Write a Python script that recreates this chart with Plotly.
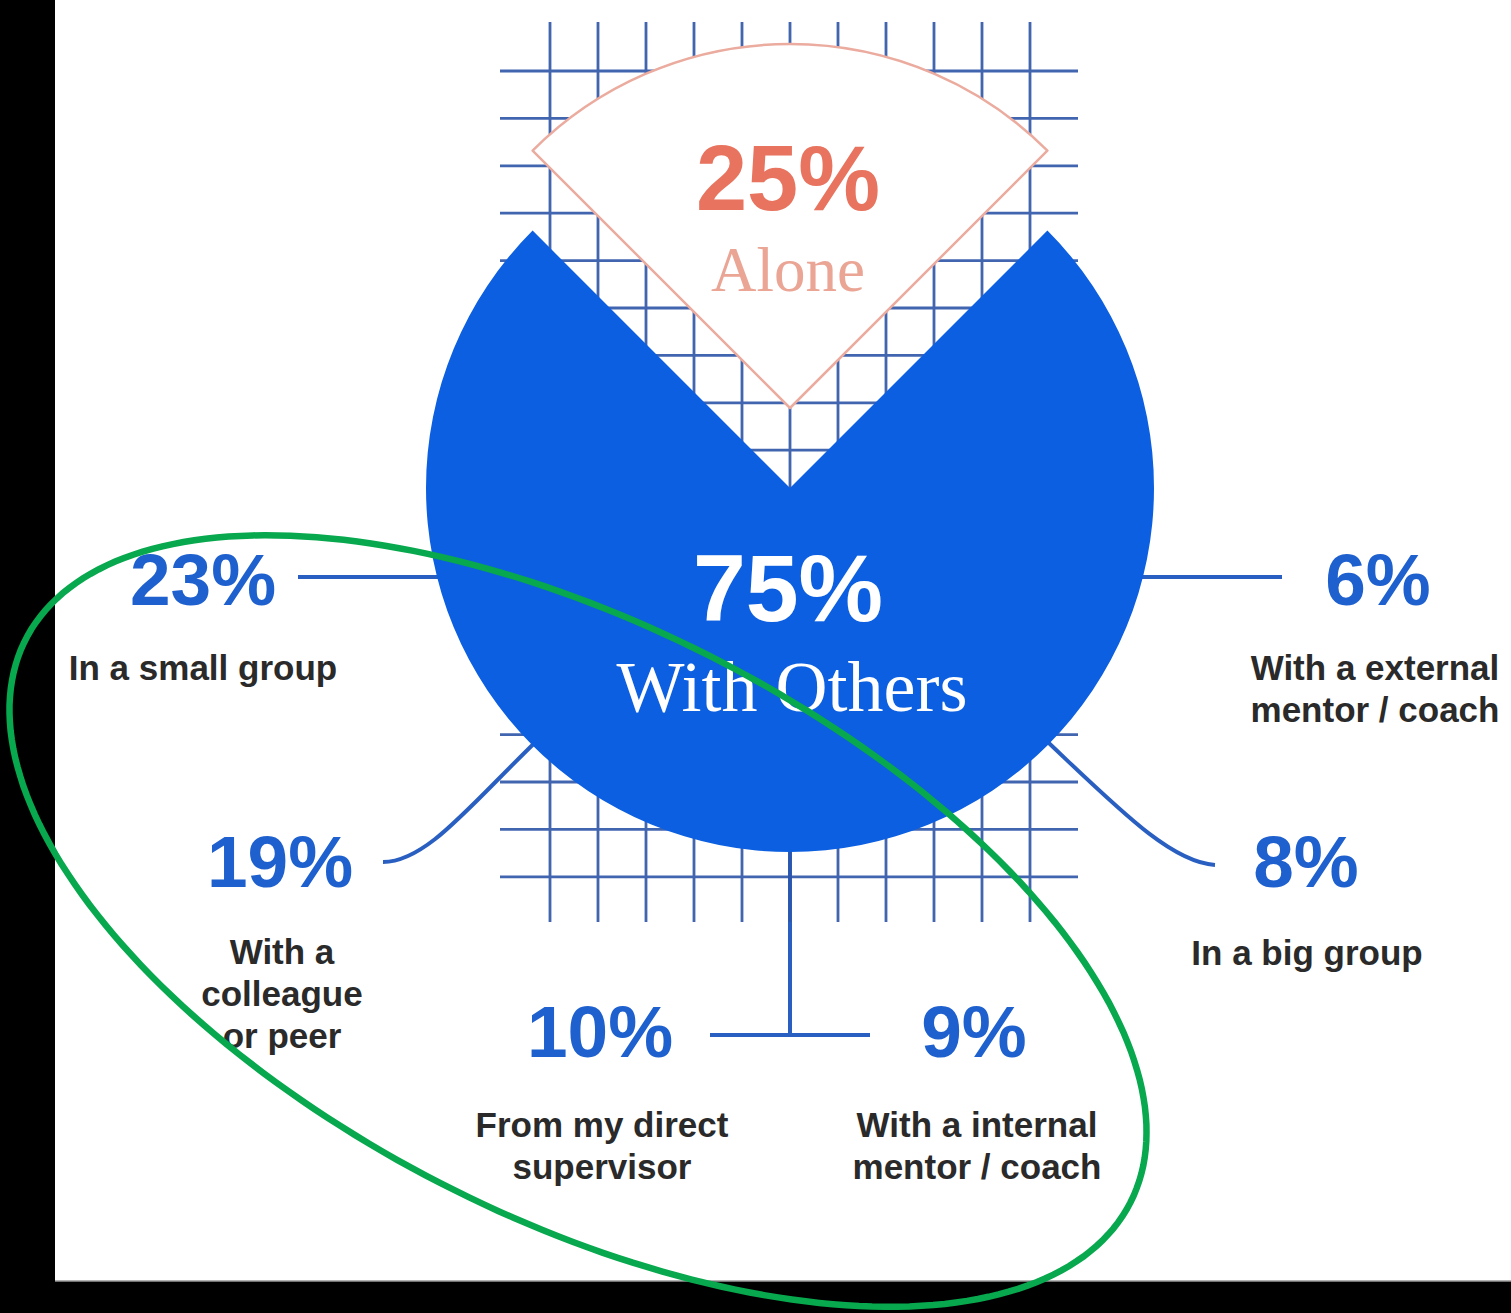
import numpy as np
import plotly.graph_objects as go

# ---------------- data ----------------
main_labels = ["Alone", "With Others"]
main_values = [25, 75]

detail_labels = [
    "In a small group",
    "With a<br>colleague<br>or peer",
    "From my direct<br>supervisor",
    "With a internal<br>mentor / coach",
    "In a big group",
    "With a external<br>mentor / coach",
]
detail_values = [23, 19, 10, 9, 8, 6]

# ---------------- layout constants (pixels) ----------------
W, H = 1511, 1313
CX, CY, R = 790, 488, 364
PULL_PX = 80
PULL = PULL_PX / R

BLUE = "#0b5fe0"
TXT_BLUE = "#1f60cf"
LINE_BLUE = "#2a5fc2"
GRID_BLUE = "#2e55a8"
SALMON = "#e8735e"
SALMON_LIGHT = "#eaa595"
DARK = "#2a2a2a"
SANS = "Liberation Sans, Arial, sans-serif"
SERIF = "Liberation Serif, Times New Roman, serif"

# positions for each detail entry: (pct_x, pct_y, label_x, label_first_y)
detail_pos = [
    (203, 580, 203, 668),
    (280, 862, 282, 952),
    (600, 1032, 602, 1125),
    (974, 1032, 977, 1125),
    (1306, 862, 1307, 953),
    (1378, 580, 1375, 668),
]
LINE_GAP = 42

fig = go.Figure()

# background grid (cartesian trace, drawn beneath the pie)
gx, gy = [], []
for k in range(11):
    x = 550 + 48 * k
    gx += [x, x, None]
    gy += [22, 922, None]
for k in range(18):
    y = 71 + 47.4 * k
    gx += [500, 1078, None]
    gy += [y, y, None]
fig.add_trace(go.Scatter(x=gx, y=gy, mode="lines",
                         line=dict(color=GRID_BLUE, width=2.8),
                         opacity=0.9, hoverinfo="skip", showlegend=False))

# pie
S = 2 * R * (1 + PULL)
fig.add_trace(go.Pie(
    values=main_values, labels=main_labels, sort=False, direction="clockwise",
    rotation=-45, pull=[PULL, 0],
    marker=dict(colors=["white", BLUE],
                line=dict(color=["#ebab9e", BLUE], width=[2.5, 0])),
    textinfo="none", hoverinfo="skip", showlegend=False,
    domain=dict(x=[(CX - S / 2) / W, (CX + S / 2) / W],
                y=[1 - (CY + S / 2) / H, 1 - (CY - S / 2) / H]),
))

shapes = []
# white card on black background
shapes.append(dict(type="rect", xref="x", yref="y", x0=55, x1=W, y0=0, y1=1281,
                   fillcolor="white", line=dict(width=0), layer="below"))
shapes.append(dict(type="line", xref="x", yref="y", x0=55, x1=W, y0=1281, y1=1281,
                   line=dict(color="#9a9a9a", width=1.5), layer="below"))

# connectors
conn = dict(color=LINE_BLUE, width=4)
shapes += [
    dict(type="line", xref="x", yref="y", x0=298, x1=460, y0=577, y1=577, line=conn, layer="below"),
    dict(type="line", xref="x", yref="y", x0=1120, x1=1282, y0=577, y1=577, line=conn, layer="below"),
    dict(type="path", xref="x", yref="y", path="M 383,862 C 428,862 472,802 548,730",
         line=conn, layer="below"),
    dict(type="path", xref="x", yref="y", path="M 1215,865 C 1168,862 1112,802 1035,730",
         line=conn, layer="below"),
    dict(type="line", xref="x", yref="y", x0=790, x1=790, y0=830, y1=1035, line=conn, layer="below"),
    dict(type="line", xref="x", yref="y", x0=710, x1=870, y0=1035, y1=1035, line=conn, layer="below"),
]


def text_shape(x, y, text, size, color, family, bold=False):
    # invisible box carrying a label, so that later shapes are drawn over the text
    y = y - 0.1 * size
    return dict(type="rect", xref="x", yref="y", x0=x - 5, x1=x + 5, y0=y - 5, y1=y + 5,
                line=dict(width=0), fillcolor="rgba(0,0,0,0)", layer="above",
                label=dict(text=f"<b>{text}</b>" if bold else text,
                           font=dict(size=size, color=color, family=family),
                           textposition="middle center", padding=0))


# central texts
shapes.append(text_shape(788, 178, f"{main_values[0]}%", 92, SALMON, SANS, bold=True))
shapes.append(text_shape(788, 269, main_labels[0], 63, SALMON_LIGHT, SERIF))
shapes.append(text_shape(788, 588, f"{main_values[1]}%", 95, "white", SANS, bold=True))
shapes.append(text_shape(792, 686, main_labels[1], 72, "white", SERIF))

# detail texts
for lab, val, (px, py, lx, ly) in zip(detail_labels, detail_values, detail_pos):
    shapes.append(text_shape(px, py, f"{val}%", 73, TXT_BLUE, SANS, bold=True))
    for i, line in enumerate(lab.split("<br>")):
        shapes.append(text_shape(lx, ly + i * LINE_GAP, line, 35, DARK, SANS, bold=True))

# green hand-drawn ellipse highlight (drawn last, over the texts)
ecx, ecy, ea, eb, eth = 578, 921, 620, 296, np.deg2rad(27)
t = np.linspace(0, 2 * np.pi, 240)
ex = ecx + ea * np.cos(t) * np.cos(eth) - eb * np.sin(t) * np.sin(eth)
ey = ecy + ea * np.cos(t) * np.sin(eth) + eb * np.sin(t) * np.cos(eth)
path = "M " + " L ".join(f"{a:.1f},{b:.1f}" for a, b in zip(ex, ey)) + " Z"
shapes.append(dict(type="path", xref="x", yref="y", path=path,
                   line=dict(color="#07a84e", width=6.5), layer="above"))

fig.update_layout(
    width=W, height=H,
    margin=dict(l=0, r=0, t=0, b=0),
    paper_bgcolor="black", plot_bgcolor="black",
    xaxis=dict(range=[0, W], visible=False, fixedrange=True),
    yaxis=dict(range=[H, 0], visible=False, fixedrange=True),
    shapes=shapes, showlegend=False,
)

fig.write_html("out.html")
